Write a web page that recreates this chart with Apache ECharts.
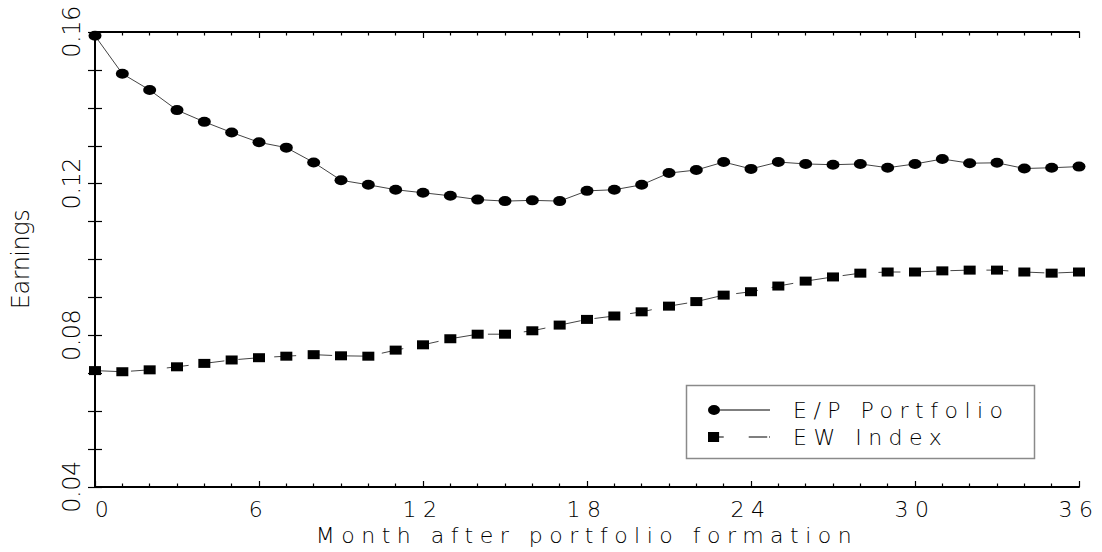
<!DOCTYPE html>
<html>
<head>
<meta charset="utf-8">
<script src="https://cdn.jsdelivr.net/npm/echarts@6/dist/echarts.min.js"></script>
<style>
html,body{margin:0;padding:0;background:#fff;}
#main{width:1102px;height:552px;}
#main text{letter-spacing:6.5px;}
#main text[transform^="matrix(0"],
#main text[transform*="e-17"]{letter-spacing:-0.5px;}
</style>
</head>
<body>
<div id="main"></div>
<script>
// ---- data ----
var months = [0,1,2,3,4,5,6,7,8,9,10,11,12,13,14,15,16,17,18,19,20,21,22,23,24,25,26,27,28,29,30,31,32,33,34,35,36];
var epPortfolio = [0.1590,0.1490,0.1447,0.1394,0.1363,0.1335,0.1309,0.1295,0.1256,0.1209,0.1197,0.1184,0.1176,0.1168,0.1158,0.1154,0.1156,0.1154,0.1181,0.1184,0.1197,0.1228,0.1236,0.1257,0.1239,0.1257,0.1252,0.1250,0.1252,0.1242,0.1252,0.1265,0.1254,0.1255,0.1240,0.1242,0.1245];
var ewIndex = [0.0707,0.0704,0.0709,0.0717,0.0726,0.0735,0.0741,0.0745,0.0749,0.0746,0.0745,0.0761,0.0775,0.0791,0.0803,0.0803,0.0812,0.0827,0.0842,0.0851,0.0862,0.0877,0.0889,0.0906,0.0915,0.0930,0.0943,0.0954,0.0964,0.0967,0.0967,0.0970,0.0972,0.0972,0.0967,0.0964,0.0967];
var seriesNames = ['E/P Portfolio','EW Index'];
var xTitle = 'Month after portfolio formation';
var yTitle = 'Earnings';

function pairs(xs, ys){ return xs.map(function(x,i){ return [x, ys[i]]; }); }

var FONT = "'DejaVu Sans', 'Liberation Sans', sans-serif";
var TXT = '#000';
var FS = 22;
var FSY = 24;
var ellipse = 'path://M0,1A1,1 0 1,0 2,1A1,1 0 1,0 0,1Z';

var chart = echarts.init(document.getElementById('main'), null, {renderer:'svg'});
chart.setOption({
  animation:false,
  backgroundColor:'#fff',
  grid:{left:95,right:23,top:32,bottom:65,containLabel:false},
  xAxis:[{
    type:'value',min:0,max:36,interval:6,position:'bottom',
    name:xTitle,nameLocation:'middle',nameGap:37,
    nameTextStyle:{fontFamily:FONT,fontSize:FS,fontWeight:200,color:TXT},
    axisLine:{show:true,lineStyle:{color:'#000',width:2}},
    axisTick:{show:true,inside:true,length:6,lineStyle:{color:'#000',width:1.2}},
    minorTick:{show:true,splitNumber:6,length:3.5,lineStyle:{color:'#000',width:1.2}},
    splitLine:{show:false},
    axisLabel:{margin:11,fontFamily:FONT,fontSize:FS,fontWeight:200,color:TXT,
      formatter:function(v){ return v===0 ? '{z|0}' : String(v); },
      rich:{z:{padding:[0,0,0,20],fontFamily:FONT,fontSize:FS,fontWeight:200,color:TXT}}}
  },{
    type:'value',min:0,max:36,interval:6,position:'top',
    axisLine:{show:true,lineStyle:{color:'#000',width:2}},
    axisTick:{show:true,inside:true,length:6,lineStyle:{color:'#000',width:1.2}},
    minorTick:{show:true,splitNumber:6,length:3.5,lineStyle:{color:'#000',width:1.2}},
    splitLine:{show:false},axisLabel:{show:false}
  }],
  yAxis:[{
    type:'value',min:0.04,max:0.16,interval:0.04,position:'left',
    name:yTitle,nameLocation:'middle',nameGap:62,nameRotate:90,
    nameTextStyle:{fontFamily:FONT,fontSize:FSY,fontWeight:200,color:TXT},
    axisLine:{show:true,lineStyle:{color:'#000',width:2}},
    axisTick:{show:true,inside:true,length:7,lineStyle:{color:'#000',width:1.2}},
    minorTick:{show:true,splitNumber:4,length:7,lineStyle:{color:'#000',width:1.2}},
    splitLine:{show:false},
    axisLabel:{rotate:90,margin:11,fontFamily:FONT,fontSize:FSY,fontWeight:200,color:TXT,
      formatter:function(v){ return v.toFixed(2); }}
  },{
    type:'value',min:0.04,max:0.16,interval:0.04,position:'right',
    axisLine:{show:true,lineStyle:{color:'#000',width:2}},
    axisTick:{show:true,inside:true,length:7,lineStyle:{color:'#000',width:1.2}},
    minorTick:{show:true,splitNumber:4,length:7,lineStyle:{color:'#000',width:1.2}},
    splitLine:{show:false},axisLabel:{show:false}
  }],
  legend:{
    left:703,top:394,orient:'vertical',itemGap:5,
    itemWidth:62,itemHeight:10,symbolKeepAspect:false,
    textStyle:{fontFamily:FONT,fontSize:FS,fontWeight:200,color:TXT,lineHeight:22,padding:[0,0,0,18]},
    data:[
      {name:seriesNames[0],icon:'path://M0,5A6.5,5 0 1,0 13,5A6.5,5 0 1,0 0,5Z M13,4.6H67V5.4H13Z',itemStyle:{color:'#000'}},
      {name:seriesNames[1],icon:'path://M0,0.5H12V9.5H0Z M12,4.6H17V5.4H12Z M44,4.6H64V5.4H44Z M66,4.6H67V5.4H66Z',itemStyle:{color:'#000'}}
    ]
  },
  graphic:[{type:'rect',left:684,top:383,shape:{width:348,height:73},style:{fill:'none',stroke:'#8a8a8a',lineWidth:1.5},silent:true,z:1}],
  series:[{
    name:seriesNames[0],type:'line',data:pairs(months,epPortfolio),
    symbol:ellipse,symbolSize:[13,10],symbolKeepAspect:false,
    itemStyle:{color:'#000'},lineStyle:{color:'#444',width:1},z:3
  },{
    name:seriesNames[1],type:'line',data:pairs(months,ewIndex),
    symbol:'rect',symbolSize:[12,9],
    itemStyle:{color:'#000'},lineStyle:{color:'#444',width:1,type:[22,14]},z:3
  }]
});
</script>
</body>
</html>
